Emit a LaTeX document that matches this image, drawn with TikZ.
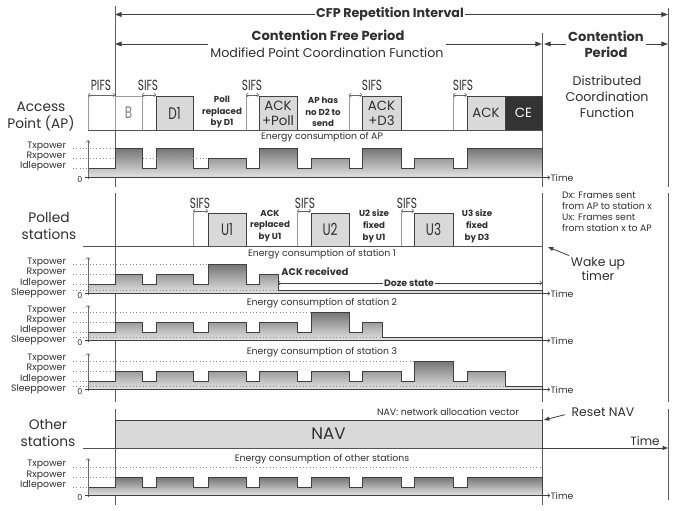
\documentclass[tikz,border=0pt]{standalone}
\usepackage{fontspec}
\setmainfont{Poppins}
\newfontfamily\narrowfont[FakeStretch=0.72]{Poppins}
\usetikzlibrary{arrows.meta}
\definecolor{ln}{HTML}{404040}
\definecolor{txt}{HTML}{303030}
\definecolor{boxg}{HTML}{D9D9D9}
\definecolor{cedark}{HTML}{333333}
\definecolor{thinl}{HTML}{9A9A9A}
\definecolor{dotc}{HTML}{8C8C8C}
\definecolor{wtop}{HTML}{747474}
\definecolor{wbot}{HTML}{E4E4E4}
\tikzset{
  every node/.style={inner sep=0pt, outer sep=0pt, text=txt},
  titleb/.style={font={\bfseries\fontsize{9.5}{11}\selectfont}, inner xsep=1pt},
  headb/.style={font={\bfseries\fontsize{9.8}{12}\selectfont}, align=center, inner xsep=2pt},
  head/.style={font={\fontsize{9.5}{12}\selectfont}, align=center, inner xsep=2pt},
  rowlbl/.style={font={\fontsize{10.3}{12.75}\selectfont}, align=center},
  sifs/.style={font={\narrowfont\fontsize{11}{12}\selectfont}},
  nbox/.style={font={\narrowfont\fontsize{12.5}{13}\selectfont}},
  wbox/.style={font={\fontsize{10}{11.25}\selectfont}, align=center},
  smallb/.style={font={\bfseries\fontsize{6.5}{8.8}\selectfont}, align=center},
  ackr/.style={font={\bfseries\fontsize{7.3}{9}\selectfont}},
  ectitle/.style={font={\fontsize{7}{8}\selectfont}},
  plbl/.style={font={\fontsize{7}{8}\selectfont}, anchor=east},
  zlbl/.style={font={\fontsize{6}{7}\selectfont}},
  timel/.style={font={\fontsize{7}{8}\selectfont}, anchor=west, xshift=0.5pt},
  dxt/.style={font={\fontsize{7}{8.25}\selectfont}, align=left, anchor=west},
  wk/.style={font={\fontsize{9.3}{10.5}\selectfont}, align=center},
  navt/.style={font={\fontsize{12.5}{14}\selectfont}},
  bigtime/.style={font={\fontsize{9}{10}\selectfont}},
  bigar/.style={draw=ln, line width=0.7pt, -{Triangle[length=5pt,width=3.6pt]}},
  smar/.style={draw=ln, line width=0.6pt, -{Triangle[length=4pt,width=3pt]}},
  vline/.style={draw=ln!85, line width=0.6pt},
  rowline/.style={draw=ln!90, line width=0.6pt},
  thinv/.style={draw=thinl, line width=0.4pt},
  dim/.style={draw=ln!80, line width=0.4pt, {Straight Barb[length=1.4pt,width=3pt]}-{Straight Barb[length=1.4pt,width=3pt]}},
  tar/.style={draw=ln, line width=0.4pt, -{Straight Barb[length=1.4pt,width=3pt]}},
  axar/.style={draw=ln!80, line width=0.4pt, -{Straight Barb[length=1.6pt,width=3.2pt]}},
  zl/.style={draw=ln, line width=0.6pt},
  lvl/.style={draw=dotc, line width=0.5pt, dotted},
  frm/.style={draw=ln, fill=boxg, line width=0.6pt},
  frmw/.style={draw=thinl, fill=white, line width=0.5pt},
  frmd/.style={draw=ln, fill=cedark, line width=0.6pt},
  wave/.style={draw=ln, line width=0.65pt, top color=wtop, bottom color=wbot},
}
% #1 name, #2 x1, #3 y1, #4 x2, #5 y2, #6 path style, #7 node style, #8 text
\newcommand{\drawframe}[8]{%
  \path[#6] (#2,#3) rectangle (#4,#5);
  \node[#7] (#1) at ({(#2+#4)/2},{(#3+#5)/2}) {#8};}
% #1 name, #2 zero y, #3 top of axis
\newcommand{\graphaxes}[3]{%
  \draw[axar] (88,#2+1.5) -- (88,#3);
  \node[zlbl] (#1z) at (80,#2+2.5) {0};
  \draw[zl] (85,#2) -- (542,#2);
  \draw[tar] (542,#2) -- (550,#2) node[timel] (#1t) {Time};}
\begin{document}
\begin{tikzpicture}[x=0.75pt,y=-0.75pt]
\useasboundingbox[fill=white] (0,0) rectangle (674,510);

% ===== period arrows
\node[titleb] (cfp) at (390,14.5) {CFP Repetition Interval};
\coordinate (cfpL) at (115,14.5);
\coordinate (cfpR) at (668,14.5);
\draw[bigar] (cfp.west) -- (cfpL);
\draw[bigar] (cfp.east) -- (cfpR);

\node[headb] (cfpd) at (328,35) {Contention Free Period};
\node[head] (mpcf) at (327,53) {Modified Point Coordination Function};
\coordinate (cfL) at (115,44);
\coordinate (cfR) at (542,44);
\draw[bigar] (mpcf.west |- cfL) -- (cfL);
\draw[bigar] (mpcf.east |- cfL) -- (cfR);

\node[headb] (cpd) at (606,44) {Contention\\Period};
\coordinate (cpL) at (544,44);
\coordinate (cpR) at (668,44);
\draw[bigar] (cpd.west) -- (cpL);
\draw[bigar] (cpd.east) -- (cpR);

\node[head] (dcf) at (607,97) {Distributed\\Coordination\\Function};

% ===== vertical period boundaries
\draw[vline] (115,6) -- (115,187) (115,193) -- (115,402) (115,409) -- (115,505);
\draw[vline] (542,33) -- (542,187) (542,193) -- (542,402) (542,409) -- (542,505);
\draw[vline] (668,8) -- (668,187) (668,193) -- (668,402) (668,409) -- (668,500);

% ===== Access point row
\node[rowlbl] (apl) at (41,116.5) {Access\\Point (AP)};
\draw[thinv] (88,96) -- (88,130) (142,96) -- (142,130) (246,96) -- (246,130)
  (349,96) -- (349,130) (453,96) -- (453,130);
\drawframe{fB}{115}{96}{142}{130}{frmw}{nbox, text=gray}{B}
\drawframe{fD1}{156}{96}{193}{130}{frm}{nbox}{D1}
\drawframe{fAP}{259}{96}{297}{130}{frm}{wbox}{ACK\\+Poll}
\drawframe{fAD}{362}{96}{401}{130}{frm}{wbox}{ACK\\+D3}
\drawframe{fACK}{467}{96}{505}{130}{frm}{wbox}{ACK}
\drawframe{fCE}{505}{96}{542}{130}{frmd}{wbox, text=white}{CE}
\draw[rowline] (88,130) -- (542,130);

\node[sifs] (pifs) at (101,85) {PIFS};
\draw[dim] (88,95) -- (115,95);
\node[sifs] (sa1) at (148,85) {SIFS};
\draw[dim] (142,95) -- (156,95);
\node[sifs] (sa2) at (252,85) {SIFS};
\draw[dim] (246,95) -- (259,95);
\node[sifs] (sa3) at (372,85) {SIFS};
\draw[dim] (349,95) -- (362,95);
\node[sifs] (sa4) at (463,85) {SIFS};
\draw[dim] (453,95) -- (467,95);

\node[smallb] (prd) at (222,112) {Poll\\replaced\\by D1};
\node[smallb] (nod) at (323,112) {AP has\\no D2 to\\send};

% ===== AP energy
\node[ectitle] (eap) at (322,137) {Energy consumption of AP};
\shadedraw[wave] (88,177.5) -- (88,168) -- (115,168) -- (115,148) -- (142,148) -- (142,168)
  -- (156,168) -- (156,148) -- (193,148) -- (193,168) -- (208,168) -- (208,158) -- (246,158)
  -- (246,168) -- (259,168) -- (259,148) -- (297,148) -- (297,168) -- (311,168) -- (311,158)
  -- (349,158) -- (349,168) -- (362,168) -- (362,148) -- (401,148) -- (401,168) -- (414,168)
  -- (414,158) -- (453,158) -- (453,168) -- (467,168) -- (467,148) -- (542,148) -- (542,177.5) -- cycle;
\draw[lvl] (73,148) -- (115,148) (73,158) -- (208,158) (73,168) -- (88,168);
\node[plbl] (apTx) at (66,146) {Txpower};
\node[plbl] (apRx) at (66,156) {Rxpower};
\node[plbl] (apId) at (66,166.5) {Idlepower};
\graphaxes{ap}{177.5}{140}

% ===== Polled stations row
\node[rowlbl] (pol) at (49,226) {Polled\\stations};
\draw[thinv] (193,213) -- (193,246) (297,213) -- (297,246) (401,213) -- (401,246);
\drawframe{fU1}{208}{213}{246}{246}{frm}{nbox}{U1}
\drawframe{fU2}{311}{213}{349}{246}{frm}{nbox}{U2}
\drawframe{fU3}{414}{213}{453}{246}{frm}{nbox}{U3}
\draw[rowline] (83,246) -- (542,246);
\node[sifs] (sp1) at (200,203) {SIFS};
\draw[dim] (193,211) -- (208,211);
\node[sifs] (sp2) at (305,203) {SIFS};
\draw[dim] (297,211) -- (311,211);
\node[sifs] (sp3) at (407,203) {SIFS};
\draw[dim] (401,211) -- (414,211);
\node[smallb] (aru) at (270,226) {ACK\\replaced\\by U1};
\node[smallb] (u2f) at (374,226) {U2 size\\fixed\\by U1};
\node[smallb] (u3f) at (477,226) {U3 size\\fixed\\by D3};

\node[dxt] (dx) at (562,211.5) {Dx: Frames sent\\from AP to station x\\Ux: Frames sent\\from station x to AP};

\node[wk] (wake) at (598,268.5) {Wake up\\timer};
\coordinate (wakeT) at (548,247);
\draw[smar] ([xshift=-1.5pt,yshift=1pt]wake.north west) -- (wakeT);

% ===== Station 1
\node[ectitle] (es1) at (322,254) {Energy consumption of station 1};
\shadedraw[wave] (88,293.5) -- (88,284.5) -- (115,284.5) -- (115,274.5) -- (142,274.5) -- (142,284.5)
  -- (156,284.5) -- (156,274.5) -- (193,274.5) -- (193,284.5) -- (208,284.5) -- (208,264.5)
  -- (246,264.5) -- (246,284.5) -- (259,284.5) -- (259,274.5) -- (278,274.5) -- (278,290.5)
  -- (542,290.5) -- (542,293.5) -- cycle;
\draw[lvl] (73,264.5) -- (208,264.5) (73,274.5) -- (115,274.5) (73,284.5) -- (88,284.5) (73,290.5) -- (278,290.5);
\node[plbl] (s1Tx) at (66,262.5) {Txpower};
\node[plbl] (s1Rx) at (66,272.5) {Rxpower};
\node[plbl] (s1Id) at (66,283) {Idlepower};
\node[plbl] (s1Sl) at (66,293) {Sleeppower};
\graphaxes{sa}{293.5}{257}
\node[ackr] (ackrec) at (315,272) {ACK received};
\node[smallb, font={\bfseries\fontsize{7}{8}\selectfont}, fill=white, inner xsep=1pt] (doze) at (409,283) {Doze state};
\coordinate (dozeL) at (278,283);
\coordinate (dozeR) at (542,283);
\draw[tar] (doze.west) -- (dozeL);
\draw[tar] (doze.east) -- (dozeR);

% ===== Station 2
\node[ectitle] (es2) at (322,303) {Energy consumption of station 2};
\shadedraw[wave] (88,340.5) -- (88,332) -- (115,332) -- (115,322) -- (142,322) -- (142,332)
  -- (156,332) -- (156,322) -- (193,322) -- (193,332) -- (208,332) -- (208,322) -- (246,322)
  -- (246,332) -- (259,332) -- (259,322) -- (297,322) -- (297,332) -- (311,332) -- (311,312)
  -- (349,312) -- (349,332) -- (362,332) -- (362,322) -- (382,322) -- (382,337.5)
  -- (542,337.5) -- (542,340.5) -- cycle;
\draw[lvl] (73,312) -- (311,312) (73,322) -- (115,322) (73,332) -- (88,332) (73,337.5) -- (382,337.5);
\node[plbl] (s2Tx) at (66,310) {Txpower};
\node[plbl] (s2Rx) at (66,320) {Rxpower};
\node[plbl] (s2Id) at (66,330) {Idlepower};
\node[plbl] (s2Sl) at (66,340) {Sleeppower};
\graphaxes{sb}{340.5}{305}

% ===== Station 3
\node[ectitle] (es3) at (322,352) {Energy consumption of station 3};
\shadedraw[wave] (88,389.5) -- (88,381) -- (115,381) -- (115,371) -- (142,371) -- (142,381)
  -- (156,381) -- (156,371) -- (193,371) -- (193,381) -- (208,381) -- (208,371) -- (246,371)
  -- (246,381) -- (259,381) -- (259,371) -- (297,371) -- (297,381) -- (311,381) -- (311,371)
  -- (349,371) -- (349,381) -- (362,381) -- (362,371) -- (401,371) -- (401,381) -- (414,381)
  -- (414,361) -- (453,361) -- (453,381) -- (467,381) -- (467,371) -- (505,371) -- (505,386.5)
  -- (542,386.5) -- (542,389.5) -- cycle;
\draw[lvl] (73,361) -- (414,361) (73,371) -- (115,371) (73,381) -- (88,381) (73,386.5) -- (505,386.5);
\node[plbl] (s3Tx) at (66,358.5) {Txpower};
\node[plbl] (s3Rx) at (66,368.5) {Rxpower};
\node[plbl] (s3Id) at (66,379) {Idlepower};
\node[plbl] (s3Sl) at (66,389) {Sleeppower};
\graphaxes{sc}{389.5}{353}

% ===== Other stations
\node[rowlbl] (oth) at (48,432.5) {Other\\stations};
\drawframe{fNAV}{115}{420}{542}{448}{frm}{navt}{NAV}
\node[ectitle] (navdef) at (448,412) {NAV: network allocation vector};
\node[wk] (rnav) at (603,412) {Reset NAV};
\coordinate (navT) at (544,420);
\draw[smar] ([xshift=-5pt,yshift=-2pt]rnav.west) -- (navT);
\coordinate (oL) at (83,448);
\coordinate (oR) at (668,448);
\draw[rowline] (oL) -- (542,448);
\draw[smar, line width=0.6pt] (542,448) -- (oR);
\node[bigtime] (btime) at (645,441) {Time};

\node[ectitle] (eot) at (322,459) {Energy consumption of other stations};
\shadedraw[wave] (88,495.5) -- (88,487) -- (115,487) -- (115,477) -- (142,477) -- (142,487)
  -- (156,487) -- (156,477) -- (193,477) -- (193,487) -- (208,487) -- (208,477) -- (246,477)
  -- (246,487) -- (259,487) -- (259,477) -- (297,477) -- (297,487) -- (311,487) -- (311,477)
  -- (349,477) -- (349,487) -- (362,487) -- (362,477) -- (401,477) -- (401,487) -- (414,487)
  -- (414,477) -- (453,477) -- (453,487) -- (467,487) -- (467,477) -- (542,477) -- (542,495.5) -- cycle;
\draw[lvl] (73,467) -- (542,467) (73,477) -- (115,477) (73,487) -- (88,487);
\node[plbl] (otTx) at (66,464) {Txpower};
\node[plbl] (otRx) at (66,475) {Rxpower};
\node[plbl] (otId) at (66,485.5) {Idlepower};
\graphaxes{ot}{495.5}{458}
\end{tikzpicture}
\end{document}
